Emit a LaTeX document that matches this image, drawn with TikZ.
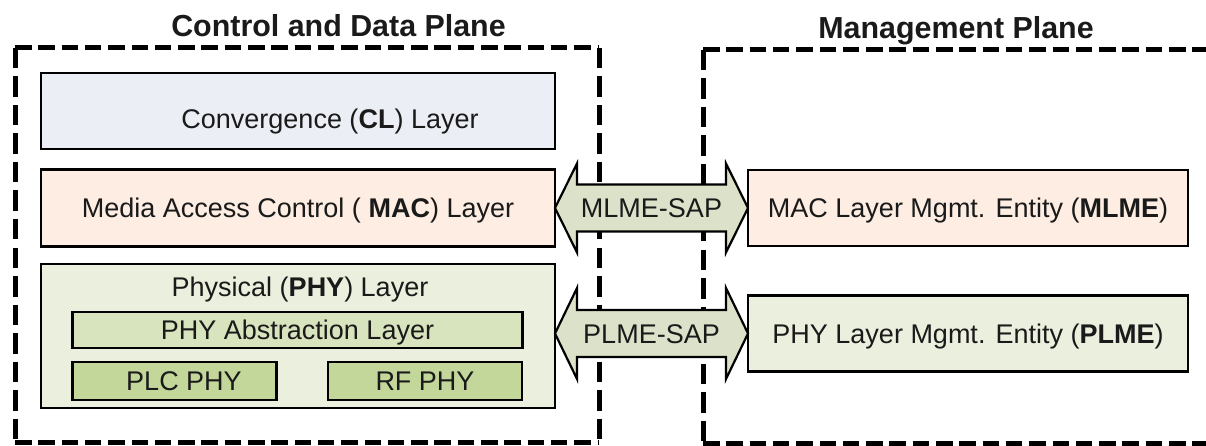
\documentclass[tikz,border=0pt]{standalone}
\usepackage{fontspec}
\setmainfont{Liberation Sans}
\usetikzlibrary{calc}
\definecolor{clfill}{HTML}{EBEEF4}
\definecolor{macfill}{HTML}{FDEDE2}
\definecolor{phyfill}{HTML}{EBEFDE}
\definecolor{absfill}{HTML}{D8E4BD}
\definecolor{plcfill}{HTML}{C4D79B}
\definecolor{sapfill}{HTML}{DCE2C9}
\definecolor{ink}{HTML}{1A1A1A}
\begin{document}
\begin{tikzpicture}[x=1pt,y=-1pt,
  every node/.style={font=\fontsize{27}{32}\selectfont, text=ink, inner sep=0pt, outer sep=0pt},
  layer/.style={draw=black, line width=2.5pt, text height=19.5pt, text depth=0pt},
  plane/.style={draw=none},
  hdash/.style={line width=5pt, dash pattern=on 16.5pt off 6.8pt},
  vdash/.style={line width=5pt, dash pattern=on 20.5pt off 8pt},
  sap/.style={draw=black, line width=2.2pt, fill=sapfill, line join=miter},
  title/.style={font=\fontsize{30.4}{36}\selectfont\bfseries, anchor=base},
  plain/.style={anchor=base}
]
\useasboundingbox (0,0) rectangle (1206,446);
\clip (0,0) rectangle (1206,446);

% planes
\node[plane, minimum width=584pt, minimum height=394pt] (cdp) at (307,245) {};
\node[plane, minimum width=506pt, minimum height=393pt] (mp) at (956,246.5) {};
\foreach \p in {cdp,mp}{
  \draw[hdash] (\p.north west) -- (\p.north east);
  \draw[hdash] (\p.south west) -- (\p.south east);
  \draw[vdash] (\p.north west) -- (\p.south west);
  \draw[vdash] (\p.north east) -- (\p.south east);
}
\node[title] (cdptitle) at (338.5,37) {Control and Data Plane};
\node[title] (mptitle) at (956,39) {Management Plane};

% left stack
\node[layer, fill=clfill, minimum width=514pt, minimum height=76pt] (cl) at (298,111) {};
\node[plain] (cltext) at (330,129) {Convergence (\textbf{CL}) Layer};
\node[layer, fill=macfill, minimum width=514pt, minimum height=77pt] (mac) at (298,208) {Media Access Control ( \textbf{MAC}) Layer};
\node[layer, fill=phyfill, minimum width=514pt, minimum height=144pt] (phy) at (298,336) {};
\node[plain] (phytext) at (300,296) {Physical (\textbf{PHY}) Layer};
\node[layer, fill=absfill, minimum width=450pt, minimum height=36pt] (abs) at (297.5,330) {PHY Abstraction Layer};
\node[layer, fill=plcfill, minimum width=204pt, minimum height=38pt] (plc) at (174.5,381) {};
\node[plain] (plctext) at (184,390) {PLC PHY};
\node[layer, fill=plcfill, minimum width=194pt, minimum height=38pt] (rf) at (425,381) {RF PHY};

% management entities
\node[layer, fill=macfill, minimum width=440pt, minimum height=76pt] (mlme) at (968,208) {MAC Layer Mgmt. Entity (\textbf{MLME})};
\node[layer, fill=phyfill, minimum width=440pt, minimum height=76pt] (plme) at (968,333.5) {PHY Layer Mgmt. Entity (\textbf{PLME})};

% service access points
\draw[sap] (mac.east) -- ++(22,-44.5) -- ++(0,21) -- ($(mlme.west)+(-22,-23.5)$) -- ++(0,-21)
  -- (mlme.west) -- ++(-22,44.5) -- ++(0,-21) -- ($(mac.east)+(22,23.5)$) -- ++(0,21) -- cycle;
\node[text height=19.5pt, text depth=0pt] (mlmesap) at ($(mac.east)!0.5!(mlme.west)$) {MLME-SAP};

\coordinate (pl) at (phy.east |- plme.west);
\draw[sap] (pl) -- ++(22,-45.5) -- ++(0,22) -- ($(plme.west)+(-22,-23.5)$) -- ++(0,-22)
  -- (plme.west) -- ++(-22,45.5) -- ++(0,-22) -- ($(pl)+(22,23.5)$) -- ++(0,22) -- cycle;
\node[text height=19.5pt, text depth=0pt] (plmesap) at ($(pl)!0.5!(plme.west)$) {PLME-SAP};
\end{tikzpicture}
\end{document}
